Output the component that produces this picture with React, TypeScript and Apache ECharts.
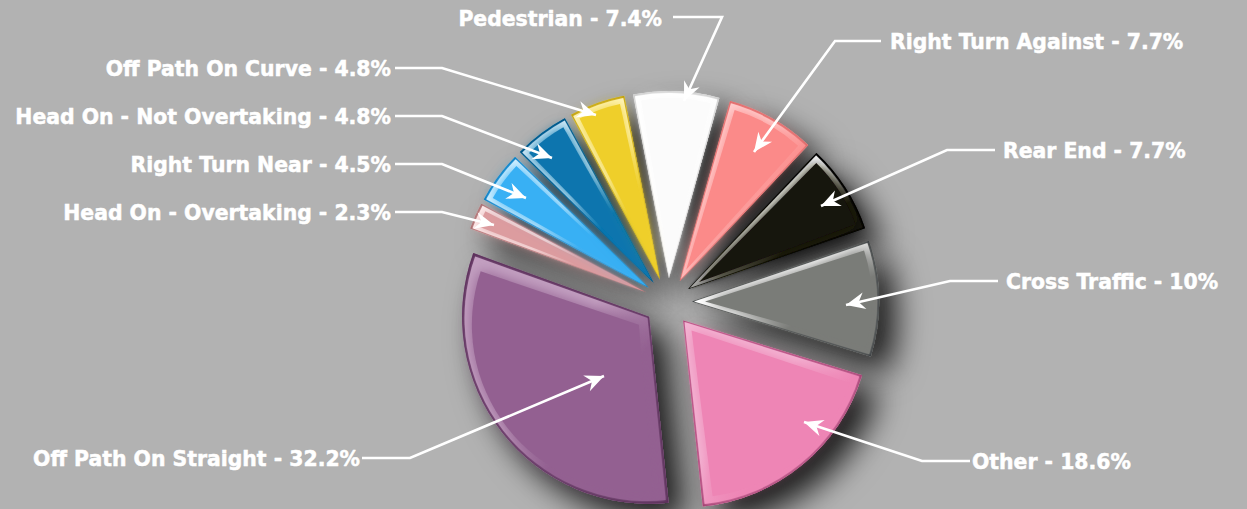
import React, { useEffect, useRef } from "react";
import * as echarts from "echarts";

const categories = ["Off Path On Straight", "Head On - Overtaking", "Right Turn Near", "Head On - Not Overtaking", "Off Path On Curve", "Pedestrian", "Right Turn Against", "Rear End", "Cross Traffic", "Other"];
const shares = [32.2, 2.3, 4.5, 4.8, 4.8, 7.4, 7.7, 7.7, 10, 18.6];
const mainColors = ["#936191", "#dc9c9f", "#38b0f4", "#0e75ae", "#efcf2a", "#fbfbfb", "#fb8a89", "#14120a", "#7a7c78", "#ee85b5"];
const rimColors = ["#5a3059", "#a16a6c", "#0b78b8", "#00507f", "#b89a14", "#c4c4c4", "#d96868", "#000000", "#3c4043", "#a04272"];
const sheenColors = ["#c3a0c1", "#fff0f0", "#d8f2ff", "#d5ecf8", "#fff6c0", "#ffffff", "#ffd0d0", "#ffffff", "#ffffff", "#f3b4d3"];
// label anchors: [x, y, align]
const labelAnchors: [number, number, string][] = [
  [360, 459, "right"], [391, 213, "right"], [391, 165, "right"], [391, 117, "right"], [391, 69, "right"],
  [662, 19, "right"], [890, 42, "left"], [1003, 151, "left"], [1006, 282, "left"], [972, 462, "left"],
];
// leader lines: start, elbow, arrow tip
const leaders: number[][][] = [
  [[362, 458], [410, 458], [604, 376]],
  [[395, 212], [442, 212], [494, 225]],
  [[395, 164], [442, 164], [526, 198]],
  [[395, 116], [442, 116], [552, 158]],
  [[395, 68], [442, 68], [596, 115]],
  [[673, 17], [722, 17], [684, 101]],
  [[881, 41], [835, 41], [754, 152]],
  [[995, 150], [947, 150], [821, 206]],
  [[998, 281], [950, 281], [846, 305]],
  [[970, 461], [922, 461], [804, 422]],
];

const CENTER = [668, 302];

const gradient = (from: string, to: string) => ({
  type: "linear", x: 0, y: 0, x2: 1, y2: 1,
  colorStops: [{ offset: 0, color: from }, { offset: 0.42, color: from }, { offset: 0.64, color: to }, { offset: 1, color: to }],
});

const arrowHead = (a: number[], b: number[]) => {
  const dx = b[0] - a[0], dy = b[1] - a[1];
  const l = Math.hypot(dx, dy), ux = dx / l, uy = dy / l, nx = -uy, ny = ux;
  const len = 19, w = 8.5, notch = 13;
  return [
    b,
    [b[0] - ux * len + nx * w, b[1] - uy * len + ny * w],
    [b[0] - ux * notch, b[1] - uy * notch],
    [b[0] - ux * len - nx * w, b[1] - uy * len - ny * w],
  ];
};

const layer = (radius: number, offset: number, padAngle: number, item: (i: number) => any, extra: any = {}, selected = true) => ({
  type: "pie",
  center: CENTER,
  radius,
  startAngle: -84,
  padAngle,
  selectedMode: selected ? "multiple" : false,
  selectedOffset: offset,
  silent: true,
  avoidLabelOverlap: false,
  label: { show: false },
  labelLine: { show: false },
  emphasis: { disabled: true },
  data: categories.map((name, i) => ({ name, value: shares[i], selected, itemStyle: item(i) })),
  ...extra,
});

export default function App() {
  const ref = useRef<HTMLDivElement>(null);
  useEffect(() => {
    document.body.style.margin = "0";
    const chart = echarts.init(ref.current!, undefined, { renderer: "svg" });
    chart.setOption({
      animation: false,
      backgroundColor: "#b2b2b2",
      series: [
        layer(187, 24, 0, (i) => ({
          color: mainColors[i], shadowBlur: 32, shadowOffsetX: 17, shadowOffsetY: 17, shadowColor: "rgba(0,0,0,0.85)",
        })),
        layer(187, 24, 0, (i) => ({ color: rimColors[i] })),
        layer(183, 26, 0.6, (i) => ({
          color: gradient(sheenColors[i], mainColors[i]),
          shadowBlur: 3, shadowColor: mainColors[i],
        })),
        layer(167, 37, 2.5, (i) => ({
          color: mainColors[i], shadowBlur: 14, shadowColor: mainColors[i],
        })),
        layer(187, 0, 0, () => ({ color: "rgba(0,0,0,0)" }), {
          label: {
            show: true,
            position: "outer",
            formatter: (p: any) => `${p.name} - ${p.value}%`,
            color: "#ffffff",
            fontFamily: "DejaVu Sans",
            fontWeight: "bold",
            fontSize: 20.4,
            textBorderColor: "#ffffff",
            textBorderWidth: 0.5,
          },
          labelLayout: (p: any) => {
            const a = labelAnchors[p.dataIndex];
            return { x: a[0], y: a[1], align: a[2], verticalAlign: "middle" };
          },
        }, false),
      ],
      graphic: leaders.flatMap((pts) => [
        { type: "polyline", z: 100, shape: { points: pts }, style: { stroke: "#ffffff", lineWidth: 2.6, fill: "none" } },
        { type: "polygon", z: 100, shape: { points: arrowHead(pts[1], pts[2]) }, style: { fill: "#ffffff" } },
      ]),
    });
    return () => chart.dispose();
  }, []);
  return <div ref={ref} style={{ width: 1247, height: 509 }} />;
}
